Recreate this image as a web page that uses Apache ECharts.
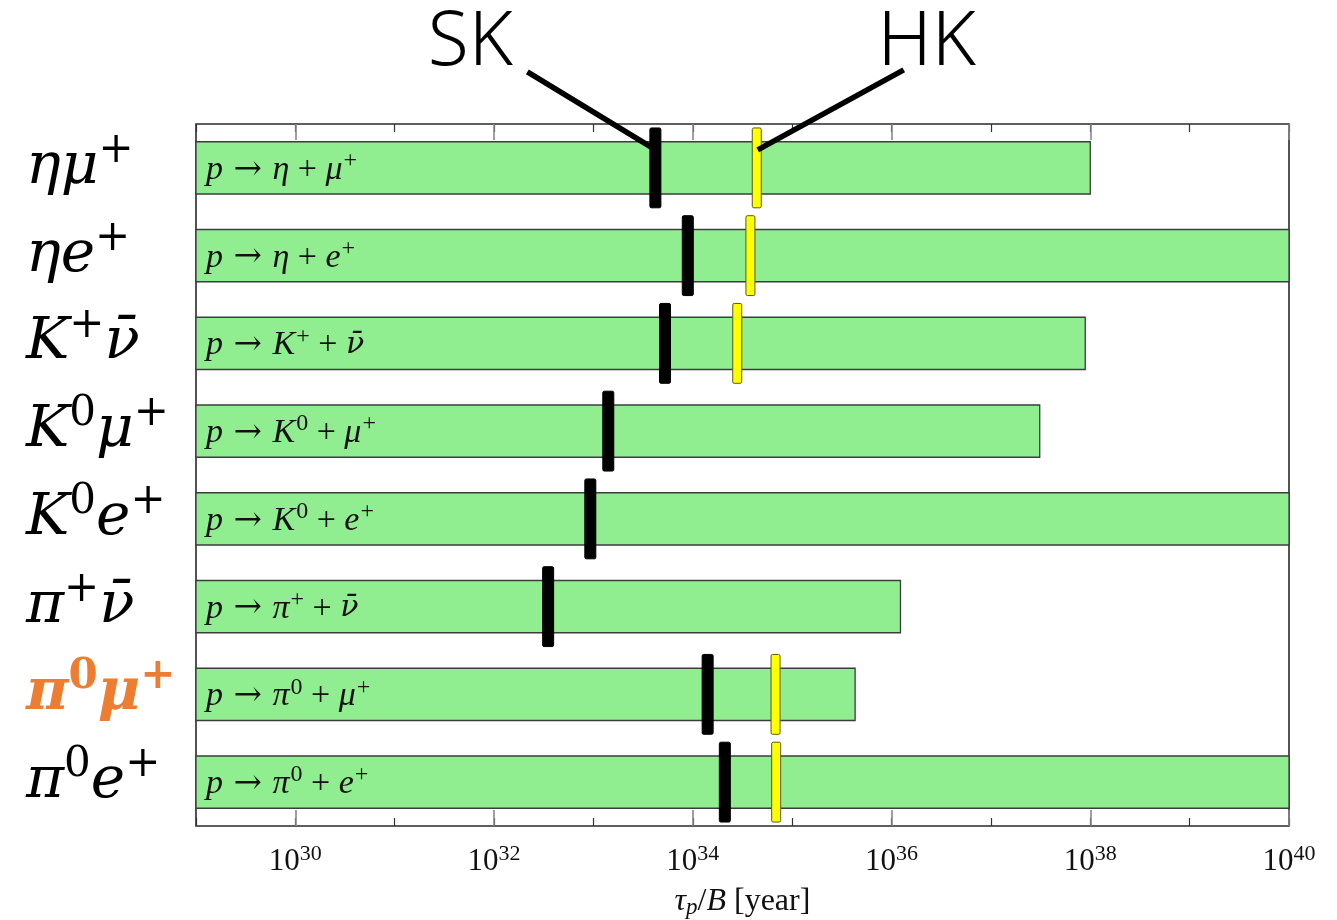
<!DOCTYPE html>
<html>
<head>
<meta charset="utf-8">
<script src="https://cdn.jsdelivr.net/npm/echarts@6/dist/echarts.min.js"></script>
<style>
html,body{margin:0;padding:0;background:#fff;}
#chart{width:1337px;height:920px;}
</style>
</head>
<body>
<div id="chart"></div>
<script>
// ---- data ----
const categories = ['ημ^+', 'ηe^+', 'K^+ν̄', 'K^0μ^+', 'K^0e^+', 'π^+ν̄', 'π^0μ^+', 'π^0e^+'];
const decayLabels = ['p → η + μ^+', 'p → η + e^+', 'p → K^+ + ν̄', 'p → K^0 + μ^+', 'p → K^0 + e^+', 'p → π^+ + ν̄', 'p → π^0 + μ^+', 'p → π^0 + e^+'];
const highlighted = ['π^0μ^+'];
// green bars: upper end of the predicted lifetime range [years]
const rangeUpper = [1.0e38, 1.0e40, 8.9e37, 3.1e37, 1.0e40, 1.23e36, 4.3e35, 1.0e40];
// Super-Kamiokande limits [years]
const skLimits = [4.2e33, 8.9e33, 5.25e33, 1.41e33, 9.3e32, 3.5e32, 1.41e34, 2.1e34];
// Hyper-Kamiokande sensitivity [years] (null = not shown)
const hkLimits = [4.4e34, 3.8e34, 2.8e34, null, null, null, 6.8e34, 6.9e34];
const axisMin = 1e29;
const axisMax = 1e40;
const majorTicks = [1e30, 1e32, 1e34, 1e36, 1e38, 1e40];
const annotationNames = ['SK', 'HK'];

// ---- helpers ----
function tokenize(str) {
  const out = [];
  let i = 0;
  while (i < str.length) {
    if (str[i] === '^') {
      out.push({t: str[i + 1], sup: true});
      i += 2;
    } else {
      let j = i;
      let s = '';
      while (j < str.length && str[j] !== '^') { s += str[j]; j++; }
      out.push({t: s, sup: false});
      i = j;
    }
  }
  return out;
}
function yLabelRich(str) {
  const hl = highlighted.indexOf(str) >= 0;
  return tokenize(str).map(tk => '{' + (hl ? 'o' : '') + (tk.sup ? 's' : 'b') + '|' + tk.t + '}').join('');
}
function charClass(ch) {
  if (ch === '→') return 'a';
  return /[A-Za-z\u0370-\u03FF\u0304]/.test(ch) ? 'i' : 'n';
}
function emit(cls, run) {
  if (cls === 'i' && run.indexOf('\u0304') >= 0) cls = 'm';
  return '{' + cls + '|' + run + '}';
}
function decayRich(str) {
  let res = '';
  tokenize(str).forEach(tk => {
    if (tk.sup) { res += '{s|' + tk.t + '}'; return; }
    let run = '', cls = null;
    for (const ch of tk.t) {
      const c = charClass(ch);
      if (cls === null || c === cls) { run += ch; cls = c; }
      else { res += emit(cls, run); run = ch; cls = c; }
    }
    if (run) res += emit(cls, run);
  });
  return res;
}

const serif = '"Liberation Serif", "DejaVu Serif", serif';
const mathFont = '"DejaVu Serif", serif';

const decayRichStyles = {
  i: {fontFamily: serif, fontStyle: 'italic', fontSize: 34, fill: '#111'},
  m: {fontFamily: mathFont, fontStyle: 'italic', fontSize: 30, fill: '#111'},
  n: {fontFamily: serif, fontSize: 34, fill: '#111'},
  a: {fontFamily: '"DejaVu Serif", serif', fontSize: 34, fill: '#111', padding: [0, 2, 0, 2]},
  s: {fontFamily: serif, fontSize: 24, fill: '#111', padding: [0, 0, 18, 1]}
};

const chart = echarts.init(document.getElementById('chart'), null, {renderer: 'canvas'});

const gridPos = {left: 196, right: 48, top: 124, bottom: 94, outerBoundsMode: 'none', containLabel: false};

function barItem(params, api) {
  const v = api.value(0), idx = api.value(1);
  const p0 = api.coord([axisMin, idx]);
  const p1 = api.coord([v, idx]);
  const band = api.size([0, 1])[1];
  const h = band * 0.595;
  return {
    type: 'group',
    children: [
      {type: 'rect', shape: {x: p0[0], y: p1[1] - h / 2, width: p1[0] - p0[0], height: h},
        style: {fill: '#90EE90', stroke: '#3c3c3c', lineWidth: 1.3}},
      {type: 'text', x: p0[0] + 10, y: p1[1] + 2,
        style: {text: decayRich(decayLabels[idx]), rich: decayRichStyles, verticalAlign: 'middle', align: 'left'}}
    ]
  };
}
function markerItem(fill, stroke, w) {
  return function (params, api) {
    const v = api.value(0), idx = api.value(1);
    const p = api.coord([v, idx]);
    const band = api.size([0, 1])[1];
    const h = band * 0.91;
    return {type: 'rect', shape: {x: p[0] - w / 2, y: p[1] - h / 2, width: w, height: h, r: 1.5},
      style: {fill: fill, stroke: stroke, lineWidth: 1}};
  };
}
function annotationItem(params, api) {
  const v = api.value(0), idx = api.value(1);
  const p = api.coord([v, idx]);
  const name = annotationNames[params.dataIndex];
  let end, start, txt;
  if (params.dataIndex === 0) {
    end = [p[0] - 3, p[1] - 20];
    start = [end[0] - 125, end[1] - 76];
    txt = [start[0] - 57, start[1] - 28];
  } else {
    end = [p[0] + 1, p[1] - 18];
    start = [end[0] + 146, end[1] - 80];
    txt = [start[0] + 23, start[1] - 26];
  }
  return {
    type: 'group',
    children: [
      {type: 'line', shape: {x1: start[0], y1: start[1], x2: end[0], y2: end[1]},
        style: {stroke: '#000', lineWidth: 5.5}},
      {type: 'text', x: txt[0], y: txt[1],
        style: {text: name, fontFamily: '"Noto Sans", "Open Sans", sans-serif', fontWeight: 300, fontSize: 75,
          fill: '#000', align: 'center', verticalAlign: 'middle'}}
    ]
  };
}

const barData = rangeUpper.map((v, i) => [v, i]);
const skData = skLimits.map((v, i) => [v, i]);
const hkData = hkLimits.map((v, i) => v == null ? null : [v, i]).filter(d => d);
const annData = [[skLimits[0], 0], [hkLimits[0], 0]];

const option = {
  animation: false,
  backgroundColor: '#fff',
  grid: [
    Object.assign({show: true, borderColor: '#2a2a2a', borderWidth: 1.6, backgroundColor: 'transparent'}, gridPos),
    Object.assign({show: false}, gridPos)
  ],
  xAxis: [
    {
      type: 'log', logBase: 10, min: axisMin, max: axisMax, interval: 1, gridIndex: 0, position: 'bottom',
      axisLine: {show: false}, splitLine: {show: false},
      axisTick: {show: true, inside: true, length: 8, lineStyle: {color: '#333', width: 1.2}},
      axisLabel: {
        margin: 17,
        formatter: function (val) {
          const e = Math.round(Math.log10(val));
          if (e % 2 !== 0) return '';
          return '{b|10}{s|' + e + '}';
        },
        rich: {
          b: {fontFamily: serif, fontSize: 31, color: '#111'},
          s: {fontFamily: serif, fontSize: 22, color: '#111', padding: [0, 0, 15, 0]}
        }
      },
      name: '{i|τ}{sub|p}{n|/}{i|B}{n| [year]}',
      nameLocation: 'middle', nameGap: 58,
      nameTextStyle: {
        rich: {
          i: {fontFamily: serif, fontStyle: 'italic', fontSize: 32, color: '#111'},
          n: {fontFamily: serif, fontSize: 32, color: '#111'},
          sub: {fontFamily: serif, fontStyle: 'italic', fontSize: 23, color: '#111', padding: [12, 0, 0, 0]}
        }
      }
    },
    {
      type: 'log', logBase: 10, min: axisMin, max: axisMax, interval: 1, gridIndex: 0, position: 'top',
      axisLine: {show: false}, splitLine: {show: false},
      axisTick: {show: true, inside: true, length: 8, lineStyle: {color: '#333', width: 1.2}},
      axisLabel: {show: false}
    },
    {
      type: 'log', logBase: 10, min: axisMin, max: axisMax, gridIndex: 1, position: 'bottom',
      axisLine: {show: false}, splitLine: {show: false},
      axisTick: {show: true, inside: true, length: 16, customValues: majorTicks, lineStyle: {color: '#888', width: 1.6}},
      axisLabel: {show: false}
    },
    {
      type: 'log', logBase: 10, min: axisMin, max: axisMax, gridIndex: 1, position: 'top',
      axisLine: {show: false}, splitLine: {show: false},
      axisTick: {show: true, inside: true, length: 16, customValues: majorTicks, lineStyle: {color: '#888', width: 1.6}},
      axisLabel: {show: false}
    }
  ],
  yAxis: [
    {
      type: 'category', data: categories, inverse: true, gridIndex: 0,
      axisLine: {show: false}, axisTick: {show: false}, splitLine: {show: false},
      axisLabel: {
        margin: 170, align: 'left',
        formatter: function (val) { return yLabelRich(val); },
        rich: {
          b: {fontFamily: mathFont, fontStyle: 'italic', fontSize: 58, color: '#000'},
          s: {fontFamily: mathFont, fontSize: 42, color: '#000', padding: [0, 0, 34, 0]},
          ob: {fontFamily: mathFont, fontStyle: 'italic', fontWeight: 'bold', fontSize: 58, color: '#ED7D31'},
          os: {fontFamily: mathFont, fontWeight: 'bold', fontSize: 42, color: '#ED7D31', padding: [0, 0, 34, 0]}
        }
      }
    },
    {type: 'value', gridIndex: 1, show: false}
  ],
  series: [
    {type: 'custom', name: 'range', xAxisIndex: 0, yAxisIndex: 0, encode: {x: 0, y: 1},
      renderItem: barItem, data: barData, z: 2, clip: false},
    {type: 'custom', name: 'SK', xAxisIndex: 0, yAxisIndex: 0, encode: {x: 0, y: 1},
      renderItem: markerItem('#000', '#000', 11), data: skData, z: 3, clip: false},
    {type: 'custom', name: 'HK', xAxisIndex: 0, yAxisIndex: 0, encode: {x: 0, y: 1},
      renderItem: markerItem('#FFFF00', '#5a5a10', 9), data: hkData, z: 4, clip: false},
    {type: 'custom', name: 'annotation', xAxisIndex: 0, yAxisIndex: 0, encode: {x: 0, y: 1},
      renderItem: annotationItem, data: annData, z: 5, clip: false}
  ]
};
chart.setOption(option);
</script>
</body>
</html>
